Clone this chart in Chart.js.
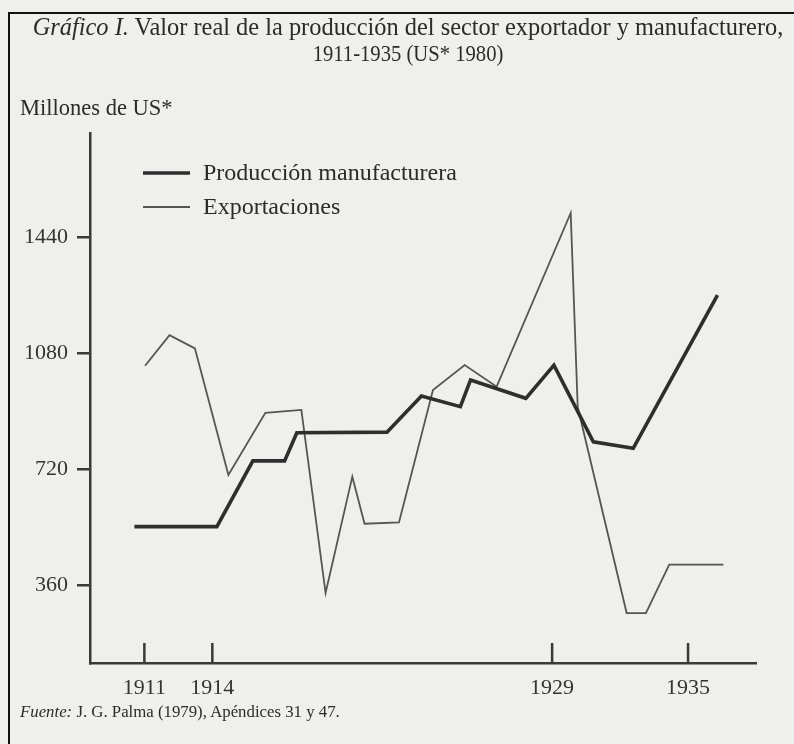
<!DOCTYPE html>
<html>
<head>
<meta charset="utf-8">
<script src="https://cdn.jsdelivr.net/npm/chart.js@4/dist/chart.umd.min.js"></script>
<style>
  body { margin: 0; background: #efefed; }
  #page { position: relative; width: 794px; height: 744px; overflow: hidden; background: #efefed;
          font-family: "Liberation Serif", "DejaVu Serif", serif; color: #2b2b2b; }
  #frame { position: absolute; left: 8px; top: 12px; width: 800px; height: 800px;
           border-left: 2.5px solid #111; border-top: 2.5px solid #111; }
  canvas { position: absolute; left: 0; top: 0; }
  .txt { position: absolute; white-space: nowrap; }
  #title1 { top: 13px; left: 0; width: 816px; text-align: center; font-size: 24.4px; }
  #title2 { top: 40px; left: 0; width: 816px; text-align: center; font-size: 24px;
            transform: scaleX(0.86); transform-origin: 408px 0; }
  #units { top: 95px; left: 20px; font-size: 22.5px; }
  #source { top: 702px; left: 20px; font-size: 16.8px; }
</style>
</head>
<body>
<div id="page">
  <div id="frame"></div>
  <canvas id="chart" width="794" height="744"></canvas>
  <div class="txt" id="title1"><i>Gráfico I.</i> Valor real de la producción del sector exportador y manufacturero,</div>
  <div class="txt" id="title2">1911-1935 (US* 1980)</div>
  <div class="txt" id="units">Millones de US*</div>
  <div class="txt" id="source"><i>Fuente:</i> J. G. Palma (1979), Apéndices 31 y 47.</div>
</div>
<script>
// values (year position, millions US$ 1980)
var mfgYears  = [1910.56, 1914.2, 1915.79, 1917.19, 1917.73, 1921.71, 1923.23, 1924.95, 1925.4, 1927.84, 1929.08, 1930.82, 1932.58, 1936.3];
var mfgValues = [543, 543, 747, 747, 834, 836, 948, 915, 998, 941, 1044, 806, 786, 1261];

var expYears  = [1911.03, 1912.11, 1913.23, 1914.71, 1916.34, 1917.93, 1919.0, 1920.18, 1920.72, 1922.24, 1923.74, 1925.14, 1926.55, 1929.82, 1930.13, 1932.29, 1933.14, 1934.17, 1936.56];
var expValues = [1042, 1137, 1096, 703, 896, 905, 337, 698, 552, 556, 967, 1044, 977, 1516, 914, 275, 275, 425, 425];

var xTickYears  = [1911, 1914, 1929, 1935];
var yTickValues = [360, 720, 1080, 1440];

var ink = '#3a3a3a';
var labelFont = { family: 'Liberation Serif', size: 22 };

function toPoints(xs, ys) {
  return xs.map(function (x, i) { return { x: x, y: ys[i] }; });
}

// x axis ticks in the figure point up into the plot
var upTicks = {
  id: 'upTicks',
  afterDraw: function (chart) {
    var ctx = chart.ctx, sx = chart.scales.x, bottom = chart.chartArea.bottom;
    ctx.save();
    ctx.strokeStyle = ink;
    ctx.lineWidth = 2.5;
    sx.ticks.forEach(function (t) {
      var px = sx.getPixelForValue(t.value);
      ctx.beginPath();
      ctx.moveTo(px, bottom);
      ctx.lineTo(px, bottom - 20);
      ctx.stroke();
    });
    ctx.restore();
  }
};

var innerLegend = {
  id: 'innerLegend',
  afterDraw: function (chart) {
    var ctx = chart.ctx;
    ctx.save();
    ctx.font = '24px "Liberation Serif"';
    ctx.textBaseline = 'middle';
    chart.data.datasets.forEach(function (ds, i) {
      var y = 173 + i * 34;
      ctx.strokeStyle = ds.borderColor;
      ctx.lineWidth = ds.borderWidth;
      ctx.beginPath();
      ctx.moveTo(143, y);
      ctx.lineTo(190, y);
      ctx.stroke();
      ctx.fillStyle = '#2b2b2b';
      ctx.fillText(ds.label, 203, y + 1);
    });
    ctx.restore();
  }
};

var ctx = document.getElementById('chart').getContext('2d');
var myChart = new Chart(ctx, {
  type: 'line',
  data: {
    datasets: [
      {
        label: 'Producción manufacturera',
        data: toPoints(mfgYears, mfgValues),
        borderColor: '#2e2e2e',
        borderWidth: 3.6,
        pointRadius: 0,
        tension: 0,
        borderJoinStyle: 'miter'
      },
      {
        label: 'Exportaciones',
        data: toPoints(expYears, expValues),
        borderColor: '#555',
        borderWidth: 1.8,
        pointRadius: 0,
        tension: 0,
        borderJoinStyle: 'miter'
      }
    ]
  },
  options: {
    responsive: false,
    animation: false,
    devicePixelRatio: 1,
    layout: { padding: { top: 133, right: 38, left: 0, bottom: 0 } },
    plugins: { legend: { display: false }, tooltip: { enabled: false } },
    scales: {
      x: {
        type: 'linear',
        min: 1908.6,
        max: 1938.0,
        afterBuildTicks: function (scale) {
          scale.ticks = xTickYears.map(function (v) { return { value: v }; });
        },
        afterFit: function (scale) { scale.height = 81; },
        border: { display: true, color: ink, width: 2.5 },
        grid: { display: false },
        ticks: {
          color: '#333',
          font: labelFont,
          padding: 4,
          maxRotation: 0,
          callback: function (v) { return String(v); }
        }
      },
      y: {
        min: 120,
        max: 1764,
        afterBuildTicks: function (scale) {
          scale.ticks = yTickValues.map(function (v) { return { value: v }; });
        },
        afterFit: function (scale) { scale.width = 90; },
        border: { display: true, color: ink, width: 2.5 },
        grid: { drawOnChartArea: false, drawTicks: true, tickLength: 13, color: ink, lineWidth: 2.5 },
        ticks: {
          color: '#333',
          font: labelFont,
          padding: 9,
          callback: function (v) { return String(v); }
        }
      }
    }
  },
  plugins: [upTicks, innerLegend]
});
</script>
</body>
</html>
